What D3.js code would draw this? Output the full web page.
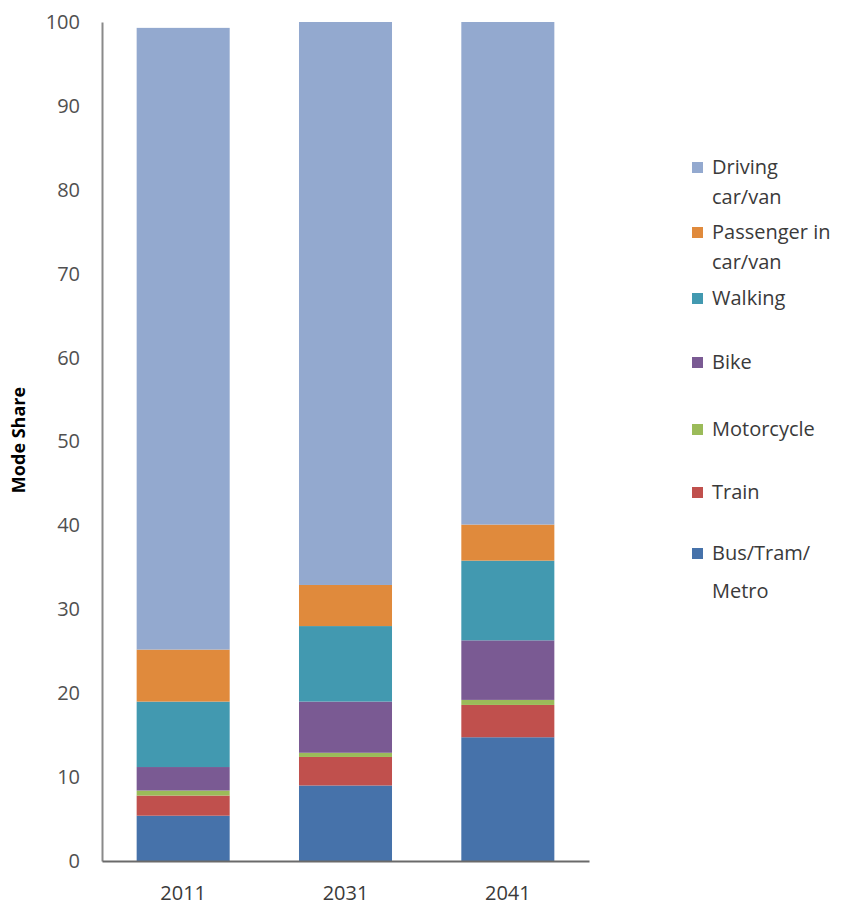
<!DOCTYPE html>
<html>
<head>
<meta charset="utf-8">
<script src="https://cdn.jsdelivr.net/npm/d3@7"></script>
<style>
  body { margin: 0; background: #fff; }
  svg { display: block; }
</style>
</head>
<body>
<svg id="chart" width="843" height="907"></svg>
<script>
const years = ["2011", "2031", "2041"];
const modes = ["Bus/Tram/Metro", "Train", "Motorcycle", "Bike", "Walking", "Passenger in car/van", "Driving car/van"];
const busTramMetro = [5.4, 9.0, 14.75];
const train = [2.4, 3.4, 3.85];
const motorcycle = [0.6, 0.5, 0.6];
const bike = [2.8, 6.1, 7.1];
const walking = [7.8, 9.0, 9.5];
const passenger = [6.2, 4.9, 4.3];
const driving = [74.1, 67.1, 59.9];
const yTicks = [0, 10, 20, 30, 40, 50, 60, 70, 80, 90, 100];
const colors = ["#4672aa", "#c0504d", "#9bbb59", "#7a5a93", "#4299b0", "#e08a3c", "#93a9cf"];

const legendItems = [
  { lines: ["Driving", "car/van"], color: colors[6] },
  { lines: ["Passenger in", "car/van"], color: colors[5] },
  { lines: ["Walking"], color: colors[4] },
  { lines: ["Bike"], color: colors[3] },
  { lines: ["Motorcycle"], color: colors[2] },
  { lines: ["Train"], color: colors[1] },
  { lines: ["Bus/Tram/", "Metro"], color: colors[0] }
];
const legendY = [167, 232, 298, 362, 429, 492, 553];

const series = [busTramMetro, train, motorcycle, bike, walking, passenger, driving];
const table = years.map((y, i) => {
  const row = { year: y };
  modes.forEach((m, k) => row[m] = series[k][i]);
  return row;
});
const stacked = d3.stack().keys(modes)(table);

const svg = d3.select("#chart");
const font = "'Open Sans', 'Liberation Sans', sans-serif";

const x = d3.scaleBand().domain(years).range([102, 589]).paddingInner(0.427).paddingOuter(0.2135);
const y = d3.scaleLinear().domain([0, 100]).range([861, 22]);

// bars
svg.append("g").selectAll("g").data(stacked).join("g")
  .attr("fill", (d, i) => colors[i])
  .selectAll("rect").data(d => d).join("rect")
  .attr("x", d => x(d.data.year))
  .attr("width", x.bandwidth())
  .attr("y", d => y(d[1]))
  .attr("height", d => y(d[0]) - y(d[1]));

// y axis
const yAxis = svg.append("g").attr("transform", "translate(102,0)")
  .call(d3.axisLeft(y).tickValues(yTicks).tickSize(0).tickPadding(22));
yAxis.select(".domain").attr("stroke", "#8a8a8a").attr("stroke-width", 2);
yAxis.selectAll("text").attr("font-family", font).attr("font-size", 20).attr("fill", "#505050");

// x axis
const xAxis = svg.append("g").attr("transform", "translate(0,861)")
  .call(d3.axisBottom(x).tickSize(0).tickPadding(25));
xAxis.select(".domain").attr("stroke", "#6a6a6a").attr("stroke-width", 2);
xAxis.selectAll("text").attr("font-family", font).attr("font-size", 20).attr("fill", "#3a3a3a");

// y title
svg.append("text")
  .attr("transform", "translate(25,440) rotate(-90)")
  .attr("text-anchor", "middle")
  .attr("font-family", font)
  .attr("font-weight", "bold")
  .attr("font-size", 18)
  .attr("fill", "#000")
  .text("Mode Share");

// legend
const lg = svg.append("g").selectAll("g").data(legendItems).join("g")
  .attr("transform", (d, i) => `translate(692,${legendY[i]})`);
lg.append("rect").attr("x", 0).attr("y", -5).attr("width", 11).attr("height", 11).attr("fill", d => d.color);
lg.each(function(d) {
  const t = d3.select(this).append("text")
    .attr("font-family", font).attr("font-size", 20).attr("fill", "#3a3a3a");
  d.lines.forEach((l, j) => {
    t.append("tspan").attr("x", 20).attr("y", 7 + j * (l === "Metro" ? 38 : 30)).text(l);
  });
});
</script>
</body>
</html>
